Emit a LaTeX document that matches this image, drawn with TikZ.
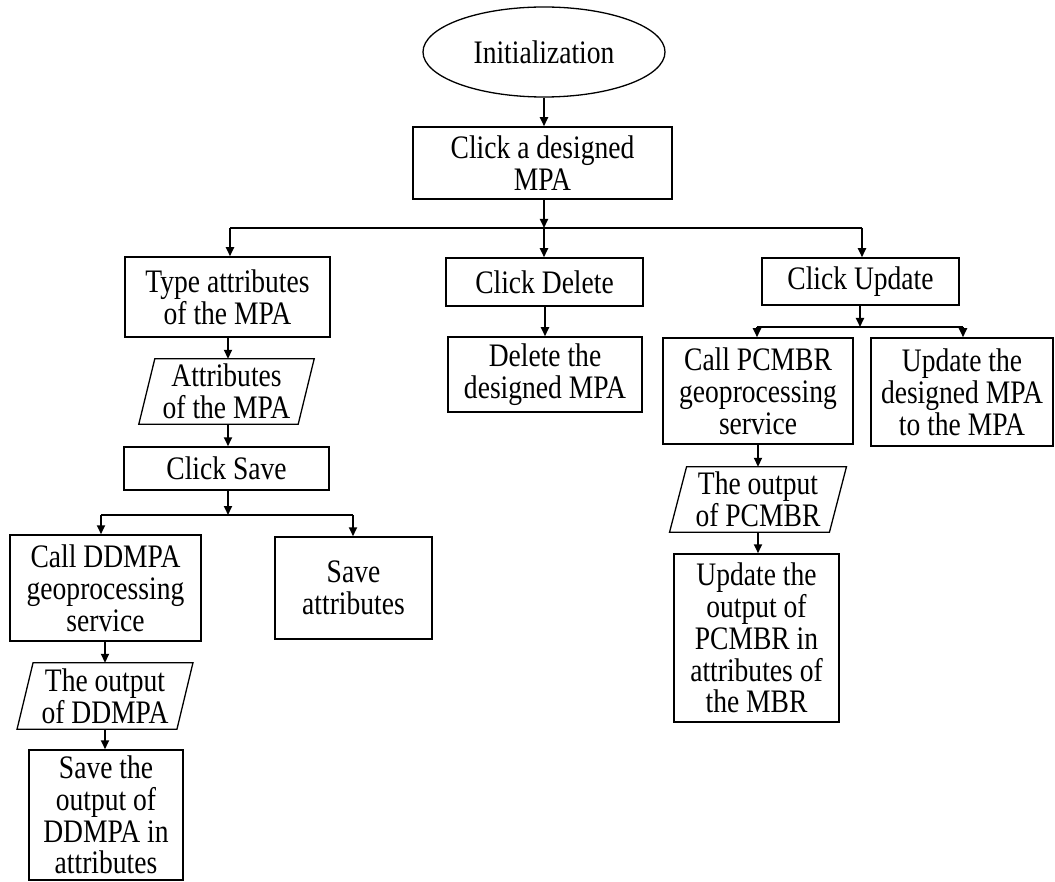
\documentclass[tikz,border=0pt]{standalone}
\usepackage{fontspec}
\setmainfont{Liberation Serif}[FakeStretch=0.84]
\usetikzlibrary{arrows.meta,shapes.geometric,calc}

\begin{document}
\begin{tikzpicture}[x=1pt,y=-1pt,
  every node/.style={font=\fontsize{32.8pt}{31.8pt}\selectfont, align=center, inner sep=0pt},
  stepbox/.style={draw, line width=1.5pt, rectangle},
  startnode/.style={draw, line width=1.3pt, ellipse},
  iobox/.style={rectangle, draw=none},
  conn/.style={line width=1.8pt},
  flow/.style={conn, -{Triangle[length=9pt,width=8pt]}}
]
\useasboundingbox (0,0) rectangle (1055,882);

% parallelogram drawn around an input/output node
\newcommand{\ioframe}[2]{%
  \draw[line width=1.3pt] ([xshift=-#2]#1.south west) -- ([xshift=#2]#1.north west)
    -- ([xshift=#2]#1.north east) -- ([xshift=-#2]#1.south east) -- cycle;}

% top
\node[startnode, minimum width=242, minimum height=90] (init) at (544,52) {Initialization};
\node[stepbox, minimum width=259, minimum height=72] (pick) at (542.5,163) {Click a designed\\MPA};

% left branch
\node[stepbox, minimum width=205, minimum height=80] (type) at (227.5,297) {Type attributes\\of the MPA};
\node[iobox, minimum width=159, minimum height=65] (attr) at (226.5,391.5) {Attributes\\of the MPA};
\ioframe{attr}{8}
\node[stepbox, minimum width=205, minimum height=43] (save) at (226.5,468.5) {Click Save};
\node[stepbox, minimum width=191, minimum height=106] (ddmpa) at (105.5,588) {Call DDMPA\\geoprocessing\\service};
\node[stepbox, minimum width=157, minimum height=102] (saveattr) at (353.5,588) {Save\\attributes};
\node[iobox, minimum width=159.5, minimum height=66] (outdd) at (105,696) {The output\\of DDMPA};
\ioframe{outdd}{8}
\node[stepbox, minimum width=154, minimum height=130] (saveout) at (106,815) {Save the\\output of\\DDMPA in\\attributes};

% middle branch
\node[stepbox, minimum width=197, minimum height=48] (del) at (544.5,282) {Click Delete};
\node[stepbox, minimum width=194, minimum height=75] (delbox) at (545,374.5) {Delete the\\designed MPA};

% right branch
\node[stepbox, minimum width=197, minimum height=47] (upd) at (860.5,281.5) {Click Update};
\node[stepbox, minimum width=190, minimum height=106] (pcmbr) at (758,391) {Call PCMBR\\geoprocessing\\service};
\node[stepbox, minimum width=182, minimum height=108] (updmpa) at (962,392) {Update the\\designed MPA\\to the MPA};
\node[iobox, minimum width=159.5, minimum height=65] (outpc) at (758,499.5) {The output\\of PCMBR};
\ioframe{outpc}{8.5}
\node[stepbox, minimum width=165, minimum height=168] (updout) at (756.5,638) {Update the\\output of\\PCMBR in\\attributes of\\the MBR};

% junction points and column lines
\coordinate (j0) at (544,97);
\coordinate (j1) at (544,228);
\coordinate (j1l) at (230,228);
\coordinate (j1r) at (862,228);
\coordinate (j2) at (228,515);
\coordinate (j2l) at (101,515);
\coordinate (j2r) at (353,515);
\coordinate (j3) at (860,327);
\coordinate (j3l) at (757,327);
\coordinate (j3r) at (963,327);
\coordinate (cm) at (545,0);
\coordinate (cl) at (105,0);
\coordinate (cr) at (758,0);

% connectors
\draw[flow] (init.south) -- (j0 |- pick.north);
\draw[flow] (pick.south -| j1) -- (j1);
\draw[conn] (j1l) -- (j1r);
\draw[flow] (j1l) -- (j1l |- type.north);
\draw[flow] (j1) -- (j1 |- del.north);
\draw[flow] (j1r) -- (j1r |- upd.north);

\draw[flow] (type.south -| j2) -- (j2 |- attr.north);
\draw[flow] (attr.south -| j2) -- (j2 |- save.north);
\draw[flow] (save.south -| j2) -- (j2);
\draw[conn] (j2l) -- (j2r);
\draw[flow] (j2l) -- (j2l |- ddmpa.north);
\draw[flow] (j2r) -- (j2r |- saveattr.north);
\draw[flow] (ddmpa.south -| cl) -- (cl |- outdd.north);
\draw[flow] (outdd.south -| cl) -- (cl |- saveout.north);

\draw[flow] (del.south -| cm) -- (cm |- delbox.north);

\draw[flow] (upd.south -| j3) -- (j3);
\draw[conn] (j3l) -- (j3r);
\draw[flow] (j3l) -- (j3l |- pcmbr.north);
\draw[flow] (j3r) -- (j3r |- updmpa.north);
\draw[flow] (pcmbr.south -| cr) -- (cr |- outpc.north);
\draw[flow] (outpc.south -| cr) -- (cr |- updout.north);
\end{tikzpicture}
\end{document}
